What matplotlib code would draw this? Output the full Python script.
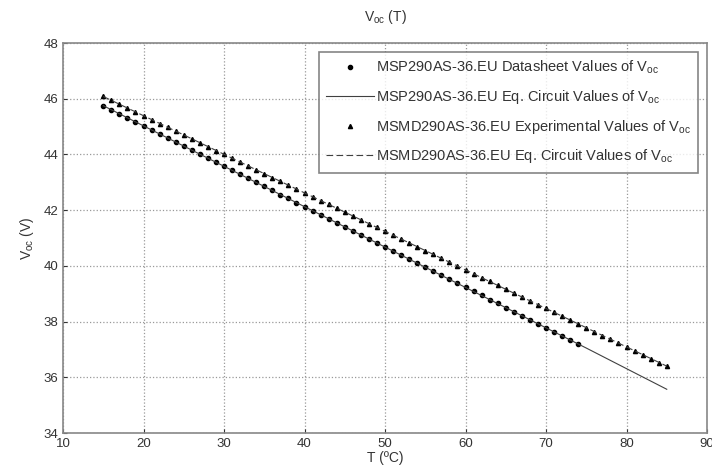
import matplotlib.pyplot as plt

plt.rcParams['font.family'] = ['Liberation Sans', 'DejaVu Sans']
plt.rcParams['mathtext.default'] = 'regular'

# temperatures (deg C)
t_datasheet = list(range(15, 75))
t_experimental = list(range(15, 86))

# MSP290AS-36.EU datasheet values of Voc
v_datasheet = [45.75, 45.61, 45.46, 45.32, 45.17, 45.03, 44.88, 44.74, 44.59, 44.45,
               44.30, 44.16, 44.01, 43.87, 43.72, 43.58, 43.43, 43.29, 43.14, 43.00,
               42.85, 42.71, 42.56, 42.42, 42.27, 42.13, 41.98, 41.84, 41.69, 41.55,
               41.40, 41.26, 41.11, 40.97, 40.82, 40.68, 40.53, 40.39, 40.24, 40.10,
               39.95, 39.81, 39.66, 39.52, 39.37, 39.23, 39.08, 38.94, 38.79, 38.65,
               38.50, 38.36, 38.21, 38.07, 37.92, 37.78, 37.63, 37.49, 37.34, 37.20]

# MSP290AS-36.EU equivalent circuit values
t_circ1 = [15, 25, 35, 45, 55, 65, 75, 85]
v_circ1 = [45.75, 44.30, 42.85, 41.40, 39.95, 38.50, 37.05, 35.57]

# MSMD290AS-36.EU experimental values
v_experimental = [46.08, 45.94, 45.80, 45.66, 45.52, 45.39, 45.25, 45.11, 44.97, 44.83,
                  44.70, 44.56, 44.42, 44.28, 44.14, 44.00, 43.87, 43.73, 43.59, 43.45,
                  43.31, 43.17, 43.04, 42.90, 42.76, 42.62, 42.48, 42.34, 42.21, 42.07,
                  41.93, 41.79, 41.65, 41.51, 41.38, 41.24, 41.10, 40.96, 40.82, 40.68,
                  40.55, 40.41, 40.27, 40.13, 39.99, 39.85, 39.72, 39.58, 39.44, 39.30,
                  39.16, 39.02, 38.89, 38.75, 38.61, 38.47, 38.33, 38.19, 38.06, 37.92,
                  37.78, 37.64, 37.50, 37.36, 37.23, 37.09, 36.95, 36.81, 36.67, 36.53,
                  36.40]

# MSMD290AS-36.EU equivalent circuit values
t_circ2 = [15, 25, 35, 45, 55, 65, 75, 85]
v_circ2 = [46.08, 44.70, 43.31, 41.93, 40.55, 39.16, 37.78, 36.40]

fig = plt.figure(figsize=(7.12, 4.76), dpi=100)
ax = fig.add_axes([63 / 712, 1 - 433 / 476, 644 / 712, 390 / 476])

ax.plot(t_datasheet, v_datasheet, '.', color='black', markersize=6,
        label='MSP290AS-36.EU Datasheet Values of V$_{oc}$')
ax.plot(t_circ1, v_circ1, '-', color='#404040', linewidth=0.8,
        label='MSP290AS-36.EU Eq. Circuit Values of V$_{oc}$')
ax.plot(t_experimental, v_experimental, '^', color='black', markersize=3,
        label='MSMD290AS-36.EU Experimental Values of V$_{oc}$')
ax.plot(t_circ2, v_circ2, '--', color='#404040', linewidth=0.8, dashes=(6, 3),
        label='MSMD290AS-36.EU Eq. Circuit Values of V$_{oc}$')

ax.set_xlim(10, 90)
ax.set_ylim(34, 48)
ax.set_xticks(range(10, 91, 10))
ax.set_yticks(range(34, 49, 2))
ax.grid(True, linestyle=':', color='#999999', linewidth=0.9)
ax.tick_params(direction='in', labelsize=9.5, colors='#333333', length=3)
for s in ax.spines.values():
    s.set_color('#888888')
    s.set_linewidth(1.2)

ax.set_title('V$_{oc}$ (T)', fontsize=10, color='#333333', pad=16)
ax.set_xlabel('T (ºC)', fontsize=10, color='#333333', labelpad=1)
ax.set_ylabel('V$_{oc}$ (V)', fontsize=10, color='#333333', labelpad=5)

leg = ax.legend(loc='upper right', fontsize=10.5, frameon=True, fancybox=False,
                edgecolor='#666666', borderaxespad=0.6, handlelength=3.3,
                labelspacing=0.8, handletextpad=0.1, borderpad=0.5)
leg.get_frame().set_linewidth(1.2)
for txt in leg.get_texts():
    txt.set_color('#333333')

fig.savefig('out.png', dpi=100)
